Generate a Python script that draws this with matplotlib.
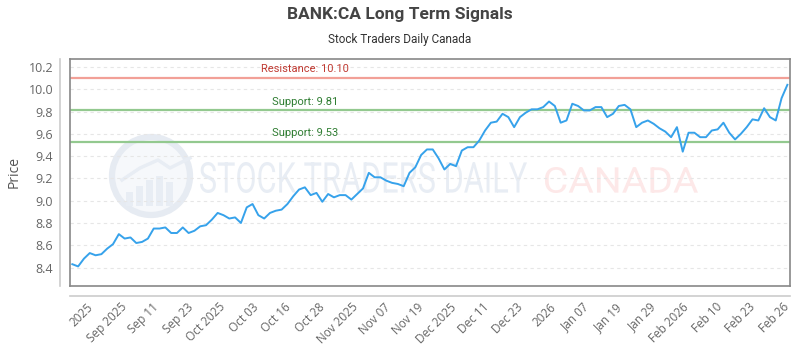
import numpy as np
import matplotlib
matplotlib.use("Agg")
import matplotlib.pyplot as plt
import matplotlib.transforms as mtransforms
from matplotlib import font_manager
from matplotlib.textpath import TextPath
from matplotlib.patches import PathPatch, Circle, Rectangle
from matplotlib.lines import Line2D

# 数据：每个交易日收盘价
prices = [8.43, 8.41, 8.48, 8.53, 8.51, 8.52, 8.57, 8.61, 8.70, 8.66,
          8.67, 8.62, 8.63, 8.66, 8.75, 8.75, 8.76, 8.71, 8.71, 8.76,
          8.71, 8.73, 8.77, 8.78, 8.83, 8.89, 8.87, 8.84, 8.85, 8.80,
          8.94, 8.97, 8.87, 8.84, 8.89, 8.91, 8.92, 8.97, 9.04, 9.10,
          9.12, 9.05, 9.07, 8.99, 9.06, 9.03, 9.05, 9.05, 9.01, 9.06,
          9.11, 9.25, 9.21, 9.21, 9.18, 9.16, 9.15, 9.13, 9.25, 9.30,
          9.41, 9.46, 9.46, 9.38, 9.28, 9.33, 9.31, 9.45, 9.48, 9.48,
          9.54, 9.63, 9.70, 9.71, 9.78, 9.75, 9.66, 9.75, 9.79, 9.82,
          9.82, 9.84, 9.89, 9.85, 9.70, 9.72, 9.87, 9.85, 9.81, 9.81,
          9.84, 9.84, 9.75, 9.78, 9.85, 9.86, 9.82, 9.66, 9.70, 9.72,
          9.69, 9.65, 9.62, 9.57, 9.66, 9.44, 9.61, 9.61, 9.57, 9.57,
          9.63, 9.64, 9.70, 9.61, 9.55, 9.60, 9.66, 9.73, 9.72, 9.83,
          9.75, 9.72, 9.92, 10.04]

tick_labels = ["2025", "Sep 2025", "Sep 11", "Sep 23", "Oct 2025", "Oct 03",
               "Oct 16", "Oct 28", "Nov 2025", "Nov 07", "Nov 19", "Dec 2025",
               "Dec 11", "Dec 23", "2026", "Jan 07", "Jan 19", "Jan 29",
               "Feb 2026", "Feb 10", "Feb 23", "Feb 26"]
# 刻度位置（按交易日序号，从图上读取）
tick_pos = [3.3, 9.1, 14.5, 20.4, 25.9, 31.7, 37.2, 43.1, 48.8, 54.4, 60.0,
            65.7, 71.4, 77.2, 82.9, 88.5, 94.3, 100.0, 105.6, 111.4, 117.1, 123.0]

resistance = [10.10]
supports = [9.81, 9.53]

y_ticks = [8.4, 8.6, 8.8, 9.0, 9.2, 9.4, 9.6, 9.8, 10.0, 10.2]


def pick_font(names, default="DejaVu Sans"):
    installed = {f.name for f in font_manager.fontManager.ttflist}
    for n in names:
        if n in installed:
            return n
    return default


title_font = pick_font(["Liberation Sans Narrow", "Roboto", "Open Sans"])
tick_font = pick_font(["Open Sans", "Noto Sans"])
label_font = pick_font(["Roboto", "Open Sans"])
wm_font = pick_font(["Roboto", "DejaVu Sans"])


def stretched_text(ax, s, x0, y0, x1, y1, color, weight="normal"):
    # 把文字拉伸到指定的像素框（图片坐标，y 向下）
    fp = font_manager.FontProperties(family=wm_font, weight=weight)
    tp = TextPath((0, 0), s, size=100, prop=fp)
    bb = tp.get_extents()
    H = 350
    tr = (mtransforms.Affine2D().translate(-bb.x0, -bb.y0)
          .scale((x1 - x0) / bb.width, (y1 - y0) / bb.height)
          .translate(x0, H - y1))
    patch = PathPatch(tr.transform_path(tp), facecolor=color, edgecolor="none",
                      transform=mtransforms.IdentityTransform(), zorder=0.5)
    ax.add_artist(patch)


fig = plt.figure(figsize=(8, 3.5), dpi=100)
ax = fig.add_axes([70 / 800, 1 - 285.7 / 350, 720 / 800, 226.4 / 350])

x = np.arange(len(prices))

# 水印
idt = mtransforms.IdentityTransform()
ax.add_artist(Circle((151, 350 - 176), 39, facecolor="#f6f8fb", edgecolor="#e6ebf2",
                     linewidth=4.5, transform=idt, zorder=0.4))
for bx, bh in [(126, 14), (136, 20), (146, 26), (156, 30), (166, 24)]:
    ax.add_artist(Rectangle((bx, 350 - 206), 7, bh, facecolor="#e8edf4",
                            edgecolor="none", transform=idt, zorder=0.45))
ax.add_artist(Line2D([122, 140, 158, 170, 190], [350 - 180, 350 - 168, 350 - 160, 350 - 168, 350 - 158],
                     color="#e8edf4", linewidth=2.5, transform=idt, zorder=0.45))
stretched_text(ax, "STOCK TRADERS DAILY", 200, 162, 527, 193, "#e8edf4")
stretched_text(ax, "CANADA", 545, 167, 698, 193, "#fde8e8")

ax.plot(x, prices, color="#36a2eb", linewidth=1.4, zorder=3)

for r in resistance:
    ax.axhline(r, color="#f2a097", linewidth=1.6, zorder=2)
    ax.annotate(f"Resistance: {r:.2f}", xy=(0.326, r), xycoords=("axes fraction", "data"),
                xytext=(0, 6.5), textcoords="offset points", ha="center", va="center",
                fontsize=8, color="#c03a32", family=label_font, zorder=4)
for s in supports:
    ax.axhline(s, color="#93c98f", linewidth=1.6, zorder=2)
    ax.annotate(f"Support: {s:.2f}", xy=(0.326, s), xycoords=("axes fraction", "data"),
                xytext=(0, 6), textcoords="offset points", ha="center", va="center",
                fontsize=8, color="#2f7d32", family=label_font, zorder=4)

ax.set_xlim(-0.4, len(prices) - 1 + 0.45)
ax.set_ylim(8.237, 10.269)
ax.set_yticks(y_ticks)
ax.set_yticklabels([f"{v:.1f}" for v in y_ticks], family=tick_font, fontsize=9, color="#666666")
ax.set_xticks(tick_pos)
ax.set_xticklabels(tick_labels, rotation=45, ha="right", va="center", rotation_mode="anchor",
                   family=tick_font, fontsize=8.5, color="#666666")
ax.tick_params(axis="both", length=0)
ax.tick_params(axis="y", pad=12)
ax.tick_params(axis="x", pad=14)

ax.grid(axis="y", color="#e6e6e6", linestyle=(0, (3, 3)), linewidth=0.8)
ax.set_axisbelow(True)
for sp in ax.spines.values():
    sp.set_color("#888888")
    sp.set_linewidth(1.2)

ax.set_ylabel("Price", family=tick_font, fontsize=10, color="#555555")
ax.yaxis.set_label_coords(-48 / 720, 0.5)

# 外侧的坐标轴线
fig.add_artist(Line2D([60 / 800, 60 / 800], [1 - 59 / 350, 1 - 286 / 350],
                      color="#cccccc", linewidth=1.2, transform=fig.transFigure))
fig.add_artist(Line2D([70 / 800, 790 / 800], [1 - 296 / 350, 1 - 296 / 350],
                      color="#cccccc", linewidth=1.2, transform=fig.transFigure))

fig.text(0.5, 1 - 15 / 350, "BANK:CA Long Term Signals", ha="center", va="center",
         fontsize=12.5, fontweight="bold", color="#444444", family=title_font)
fig.text(0.5, 1 - 40 / 350, "Stock Traders Daily Canada", ha="center", va="center",
         fontsize=8.5, color="#333333", family=title_font)

fig.savefig("out.png", dpi=100)
